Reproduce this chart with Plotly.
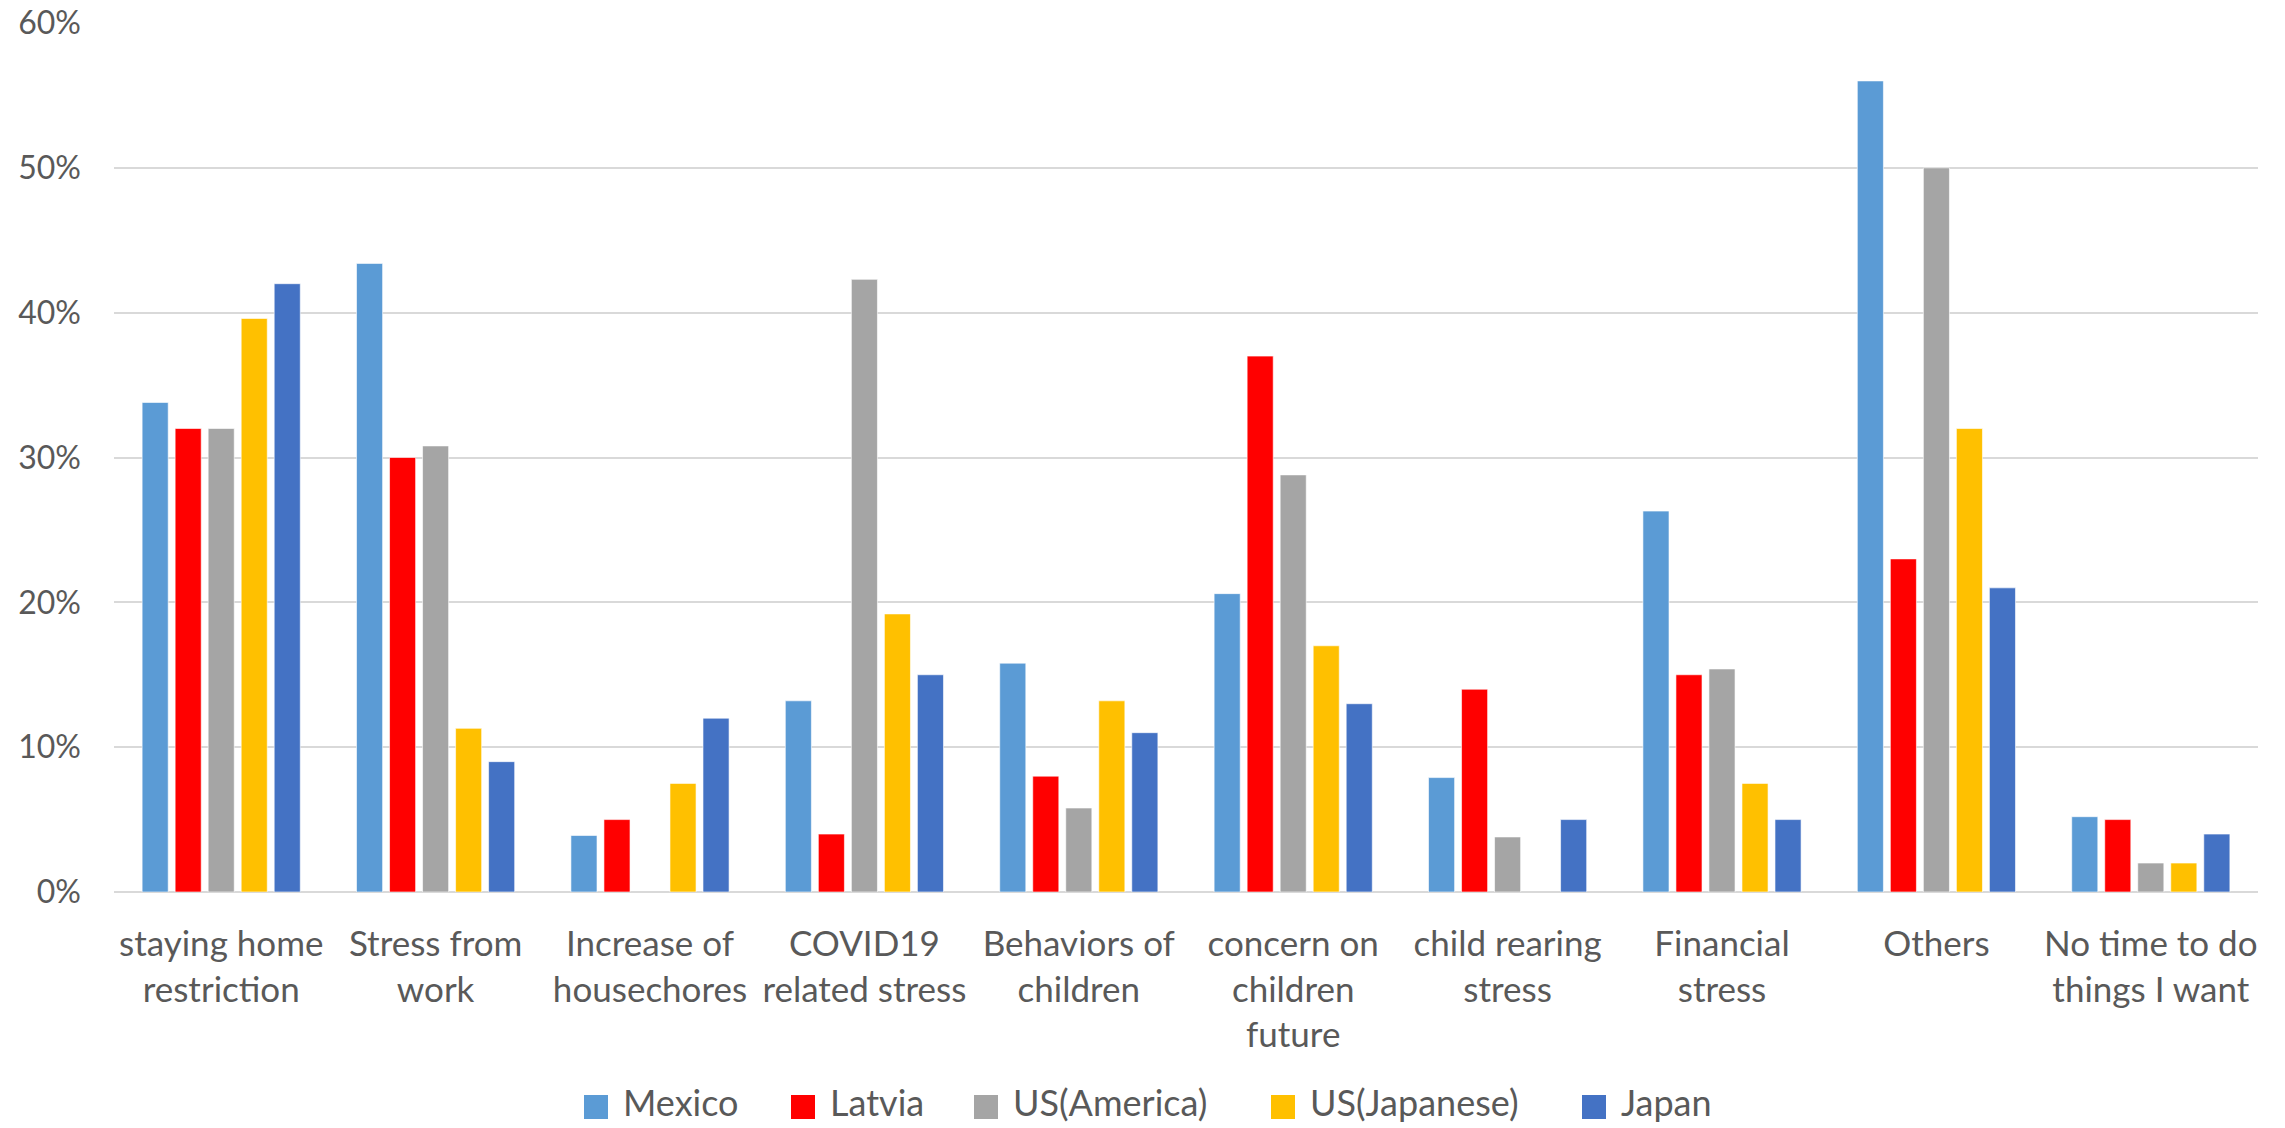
import plotly.graph_objects as go

categories = [
    "staying home<br>restriction",
    "Stress from<br>work",
    "Increase of<br>housechores",
    "COVID19<br>related stress",
    "Behaviors of<br>children",
    "concern on<br>children<br>future",
    "child rearing<br>stress",
    "Financial<br>stress",
    "Others",
    "No time to do<br>things I want",
]

# Share of respondents (fraction) per stress source
mexico = [0.338, 0.434, 0.039, 0.132, 0.158, 0.206, 0.079, 0.263, 0.560, 0.052]
latvia = [0.320, 0.300, 0.050, 0.040, 0.080, 0.370, 0.140, 0.150, 0.230, 0.050]
us_america = [0.320, 0.308, None, 0.423, 0.058, 0.288, 0.038, 0.154, 0.500, 0.020]
us_japanese = [0.396, 0.113, 0.075, 0.192, 0.132, 0.170, None, 0.075, 0.320, 0.020]
japan = [0.420, 0.090, 0.120, 0.150, 0.110, 0.130, 0.050, 0.050, 0.210, 0.040]

series_names = ["Mexico", "Latvia", "US(America)", "US(Japanese)", "Japan"]
series_values = [mexico, latvia, us_america, us_japanese, japan]
series_colors = ["#5B9BD5", "#FF0000", "#A5A5A5", "#FFC000", "#4472C4"]

W, H = 2285, 1128
M_L, M_R, M_T, M_B = 114, 27, 23, 236
PLOT_W = W - M_L - M_R
PLOT_H = H - M_T - M_B

font_family = "Lato, 'Open Sans', sans-serif"
text_color = "#595959"

fig = go.Figure()
for name, vals, color in zip(series_names, series_values, series_colors):
    fig.add_trace(go.Bar(
        name=name,
        x=categories,
        y=vals,
        marker=dict(color=color, line=dict(color="rgba(255,255,255,0.6)", width=1)),
        showlegend=False,
    ))


def px_to_paper_x(px):
    return (px - M_L) / PLOT_W


def px_to_paper_y(py):
    return (H - M_B - py) / PLOT_H


# Legend row below the axis: square swatch followed by the series name
legend_swatch_left = [584, 791, 974, 1271, 1582]
swatch_center_y = 1107
text_center_y = 1102
swatch = 24
text_offset = 38

shapes = []
annotations = []
for left, name, color in zip(legend_swatch_left, series_names, series_colors):
    shapes.append(dict(
        type="rect", xref="paper", yref="paper",
        x0=px_to_paper_x(left), x1=px_to_paper_x(left + swatch),
        y0=px_to_paper_y(swatch_center_y + swatch / 2),
        y1=px_to_paper_y(swatch_center_y - swatch / 2),
        fillcolor=color, line=dict(width=0),
    ))
    annotations.append(dict(
        xref="paper", yref="paper",
        x=px_to_paper_x(left + text_offset), y=px_to_paper_y(text_center_y),
        xanchor="left", yanchor="middle",
        text=name, showarrow=False, borderpad=0,
        font=dict(family=font_family, size=36, color=text_color),
    ))

fig.update_layout(
    width=W,
    height=H,
    barmode="group",
    bargap=0.23,
    bargroupgap=0.21,
    plot_bgcolor="white",
    paper_bgcolor="white",
    margin=dict(l=M_L, r=M_R, t=M_T, b=M_B, autoexpand=False),
    font=dict(family=font_family, color=text_color, size=32),
    showlegend=False,
    shapes=shapes,
    annotations=annotations,
)

fig.update_yaxes(
    range=[0, 0.6],
    dtick=0.1,
    tickformat=".0%",
    showgrid=True,
    gridcolor="#D9D9D9",
    gridwidth=2,
    zeroline=True,
    zerolinecolor="#D9D9D9",
    zerolinewidth=2,
    showline=False,
    ticks="",
    automargin=False,
    ticklabelstandoff=32,
    tickfont=dict(size=32, color=text_color),
)

fig.update_xaxes(
    showgrid=False,
    showline=False,
    ticks="",
    tickangle=0,
    automargin=False,
    ticklabelstandoff=28,
    tickfont=dict(size=35, color=text_color),
)

fig.write_html("out.html")
